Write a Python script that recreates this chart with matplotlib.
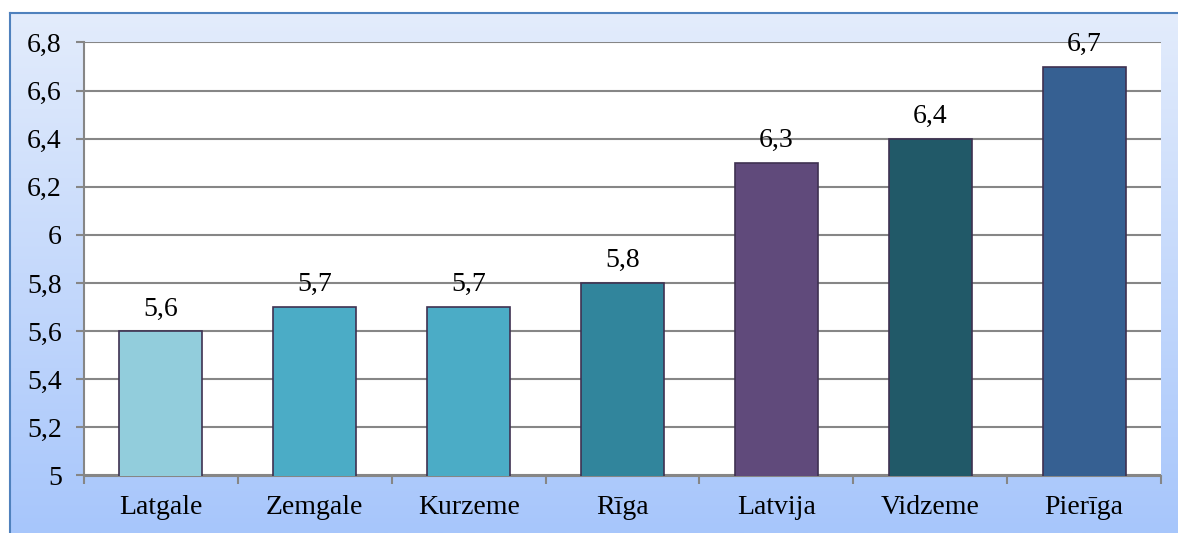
import numpy as np
import matplotlib
matplotlib.use("Agg")
import matplotlib.pyplot as plt
from matplotlib.colors import LinearSegmentedColormap

categories = ["Latgale", "Zemgale", "Kurzeme", "Rīga", "Latvija", "Vidzeme", "Pierīga"]
values = [5.6, 5.7, 5.7, 5.8, 6.3, 6.4, 6.7]
bar_colors = ["#92CDDC", "#4BACC6", "#4BACC6", "#31859C", "#604A7B", "#215968", "#366092"]
yticks = [5.0, 5.2, 5.4, 5.6, 5.8, 6.0, 6.2, 6.4, 6.6, 6.8]

def fmt(v):
    s = ("%.1f" % v).replace(".", ",")
    if s.endswith(",0"):
        s = s[:-2]
    return s

plt.rcParams['font.family'] = ['Liberation Serif', 'DejaVu Serif']
FS = 20

W, H = 1178, 533
fig = plt.figure(figsize=(W / 100, H / 100), dpi=100)

# background gradient
bg = fig.add_axes([0, 0, 1, 1], zorder=-10)
bg.set_xlim(0, W)
bg.set_ylim(H, 0)
bg.axis("off")
cmap = LinearSegmentedColormap.from_list("g", ["#e3ecfc", "#a7c6fb"])
grad = np.linspace(0, 1, 256).reshape(-1, 1)
bg.imshow(grad, cmap=cmap, extent=[10, W, H, 13], aspect="auto")
bg.plot([10, W], [13, 13], color="#4f81bd", lw=1.5)
bg.plot([10, 10], [13, H], color="#4f81bd", lw=1.5)

ax = fig.add_axes([84 / W, 1 - 475.5 / H, (1161 - 84) / W, (475.5 - 42.5) / H])
ax.set_facecolor("white")
x = np.arange(len(categories))
bars = ax.bar(x, values, width=0.54, bottom=0, color=bar_colors, edgecolor="#3f3151",
              linewidth=1.2, zorder=3)
ax.set_ylim(5, 6.8)
ax.set_xlim(-0.5, len(categories) - 0.5)
ax.set_yticks(yticks)
ax.set_yticklabels([fmt(v) for v in yticks], fontsize=FS)
ax.yaxis.grid(True, color="#868686", lw=1.5, zorder=1)
ax.set_axisbelow(True)
ax.set_xticks(np.arange(-0.5, len(categories) + 0.5, 1))
ax.set_xticklabels([])
ax.set_xticks(x, minor=True)
ax.set_xticklabels(categories, minor=True, fontsize=FS)
ax.tick_params(axis="x", which="minor", length=0, pad=14)
ax.tick_params(axis="x", which="major", length=6, width=1.5, color="#868686")
ax.tick_params(axis="y", length=6, width=1.5, color="#868686", pad=10)
for s in ["top", "right"]:
    ax.spines[s].set_visible(False)
for s in ["left", "bottom"]:
    ax.spines[s].set_color("#868686")
    ax.spines[s].set_linewidth(1.5)

for xi, v in zip(x, values):
    ax.annotate(fmt(v), (xi, v), xytext=(0, 7), textcoords="offset points",
                ha="center", va="bottom", fontsize=FS, zorder=5)

fig.savefig("out.png", dpi=100)
